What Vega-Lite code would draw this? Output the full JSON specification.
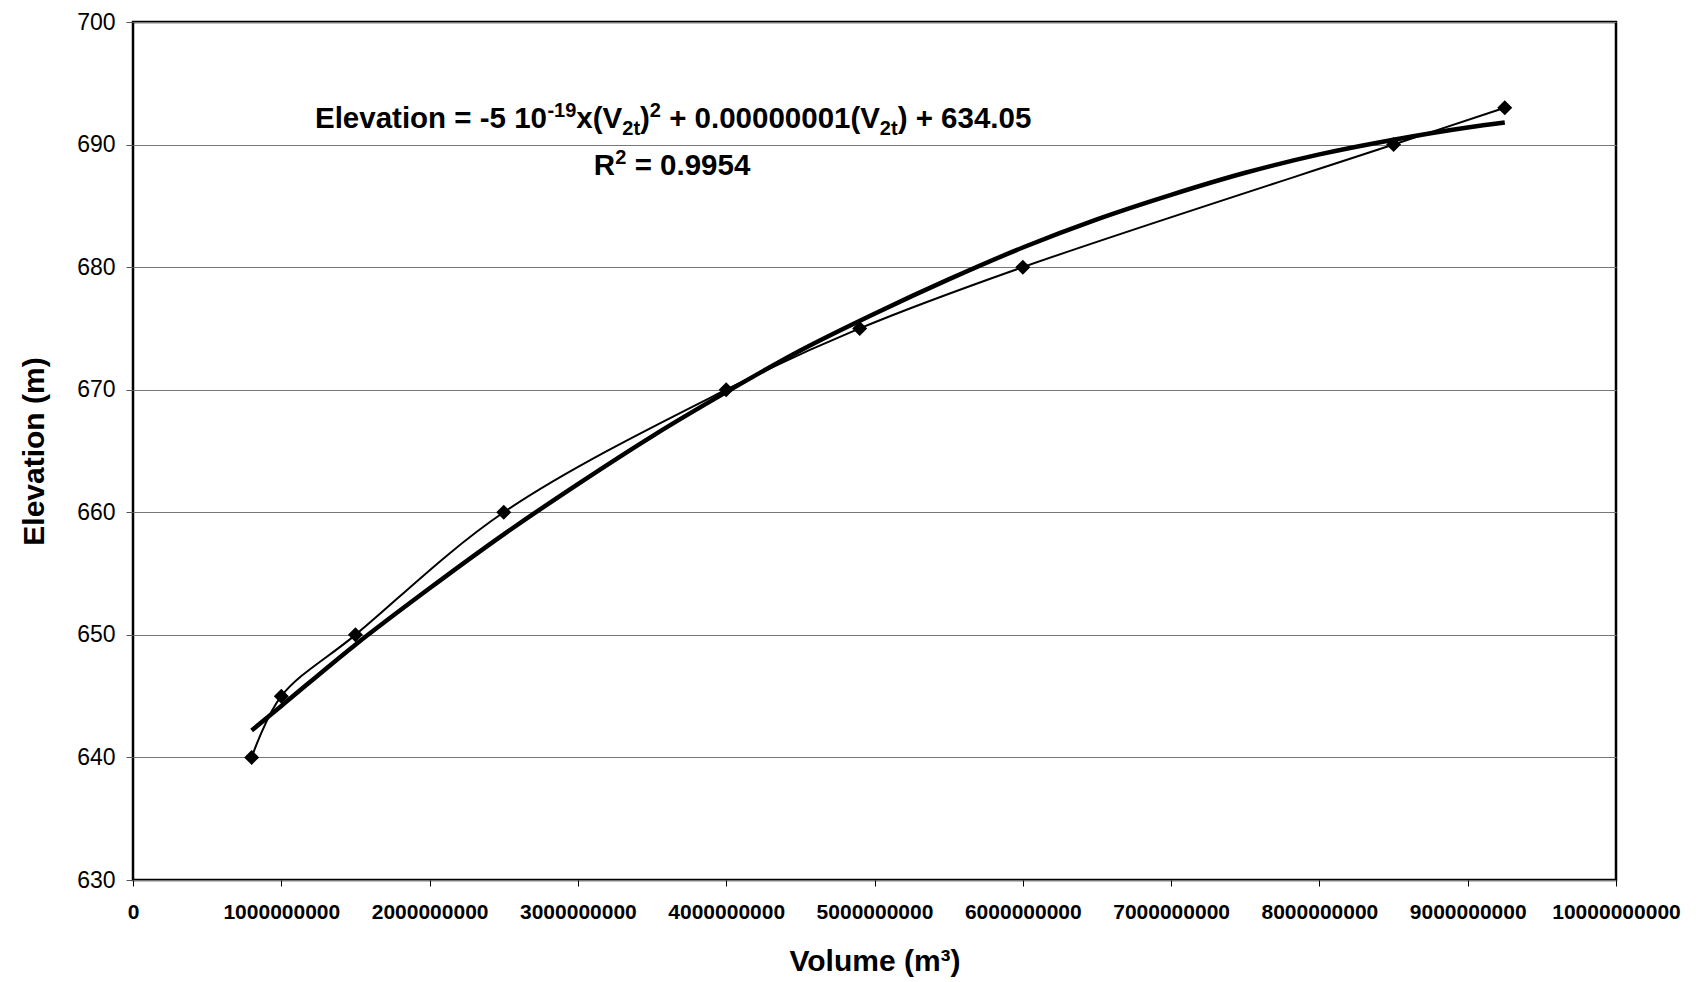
{
  "$schema": "https://vega.github.io/schema/vega-lite/v6.json",
  "width": 1483,
  "height": 858,
  "autosize": {"type": "none"},
  "padding": {"left": 133, "top": 22, "right": 83, "bottom": 102},
  "background": "white",
  "config": {
    "view": {"stroke": "black", "strokeWidth": 2.5},
    "font": "Liberation Sans"
  },
  "datasets": {
    "obs": [
      {"volume": 800000000, "elevation": 640},
      {"volume": 1000000000, "elevation": 645},
      {"volume": 1500000000, "elevation": 650},
      {"volume": 2500000000, "elevation": 660},
      {"volume": 4000000000, "elevation": 670},
      {"volume": 4900000000, "elevation": 675},
      {"volume": 6000000000, "elevation": 680},
      {"volume": 8500000000, "elevation": 690},
      {"volume": 9250000000, "elevation": 693}
    ],
    "trend": [
      {"volume": 800000000, "elevation": 642.2},
      {"volume": 1000000000, "elevation": 644.2},
      {"volume": 1500000000, "elevation": 649.2},
      {"volume": 2000000000, "elevation": 653.8},
      {"volume": 2500000000, "elevation": 658.2},
      {"volume": 3000000000, "elevation": 662.3},
      {"volume": 3500000000, "elevation": 666.2},
      {"volume": 4000000000, "elevation": 669.8},
      {"volume": 4500000000, "elevation": 673.2},
      {"volume": 5000000000, "elevation": 676.2},
      {"volume": 5500000000, "elevation": 679.0},
      {"volume": 6000000000, "elevation": 681.6},
      {"volume": 6500000000, "elevation": 683.9},
      {"volume": 7000000000, "elevation": 685.9},
      {"volume": 7500000000, "elevation": 687.7},
      {"volume": 8000000000, "elevation": 689.2},
      {"volume": 8500000000, "elevation": 690.4},
      {"volume": 9000000000, "elevation": 691.4},
      {"volume": 9250000000, "elevation": 691.8}
    ],
    "equation": [
      {"volume": 1227000000, "elevation": 691.36}
    ],
    "rsq": [
      {"volume": 3107000000, "elevation": 687.5}
    ]
  },
  "layer": [
    {
      "data": {"name": "obs"},
      "mark": {"type": "line", "color": "black", "strokeWidth": 2, "interpolate": "catmull-rom"},
      "encoding": {
        "x": {
          "field": "volume", "type": "quantitative",
          "scale": {"domain": [0, 10000000000], "nice": false},
          "axis": {
            "title": "Volume (m³)",
            "values": [0, 1000000000, 2000000000, 3000000000, 4000000000, 5000000000, 6000000000, 7000000000, 8000000000, 9000000000, 10000000000],
            "format": "d",
            "grid": false,
            "domain": false,
            "tickColor": "black",
            "tickSize": 6,
            "labelFont": "Liberation Sans",
            "labelFontWeight": "bold",
            "labelFontSize": 21,
            "labelColor": "black",
            "labelPadding": 15,
            "labelFlush": false,
            "titleFont": "Liberation Sans",
            "titleFontWeight": "bold",
            "titleFontSize": 30,
            "titleColor": "black",
            "titlePadding": 24
          }
        },
        "y": {
          "field": "elevation", "type": "quantitative",
          "scale": {"domain": [630, 700], "nice": false, "zero": false},
          "axis": {
            "title": "Elevation (m)",
            "values": [630, 640, 650, 660, 670, 680, 690, 700],
            "grid": true,
            "gridColor": "#777777",
            "gridWidth": 1.2,
            "domain": false,
            "tickColor": "#555555",
            "tickSize": 7,
            "labelFont": "Liberation Sans",
            "labelFontSize": 23,
            "labelColor": "black",
            "labelPadding": 11,
            "titleFont": "Liberation Sans",
            "titleFontWeight": "bold",
            "titleFontSize": 30,
            "titleColor": "black",
            "titlePadding": 27
          }
        }
      }
    },
    {
      "data": {"name": "trend"},
      "mark": {"type": "line", "color": "black", "strokeWidth": 4.5, "interpolate": "monotone"},
      "encoding": {
        "x": {"field": "volume", "type": "quantitative"},
        "y": {"field": "elevation", "type": "quantitative"}
      }
    },
    {
      "data": {"name": "obs"},
      "mark": {"type": "point", "shape": "diamond", "filled": true, "color": "black", "size": 225, "opacity": 1},
      "encoding": {
        "x": {"field": "volume", "type": "quantitative"},
        "y": {"field": "elevation", "type": "quantitative"}
      }
    },
    {
      "data": {"name": "equation"},
      "encoding": {
        "x": {"field": "volume", "type": "quantitative"},
        "y": {"field": "elevation", "type": "quantitative"}
      },
      "layer": [
        {"mark": {"type": "text", "text": "Elevation = -5 10", "font": "Liberation Sans", "fontWeight": "bold", "fontSize": 29.5, "color": "black", "align": "left", "baseline": "alphabetic", "dx": 0}},
        {"mark": {"type": "text", "text": "-19", "font": "Liberation Sans", "fontWeight": "bold", "fontSize": 20, "color": "black", "align": "left", "baseline": "alphabetic", "dx": 232.5, "dy": -11}},
        {"mark": {"type": "text", "text": "x(V", "font": "Liberation Sans", "fontWeight": "bold", "fontSize": 29.5, "color": "black", "align": "left", "baseline": "alphabetic", "dx": 261.4}},
        {"mark": {"type": "text", "text": "2t", "font": "Liberation Sans", "fontWeight": "bold", "fontSize": 20, "color": "black", "align": "left", "baseline": "alphabetic", "dx": 307.3, "dy": 7}},
        {"mark": {"type": "text", "text": ")", "font": "Liberation Sans", "fontWeight": "bold", "fontSize": 29.5, "color": "black", "align": "left", "baseline": "alphabetic", "dx": 325.1}},
        {"mark": {"type": "text", "text": "2", "font": "Liberation Sans", "fontWeight": "bold", "fontSize": 20, "color": "black", "align": "left", "baseline": "alphabetic", "dx": 334.9, "dy": -11}},
        {"mark": {"type": "text", "text": "+ 0.00000001(V", "font": "Liberation Sans", "fontWeight": "bold", "fontSize": 29.5, "color": "black", "align": "left", "baseline": "alphabetic", "dx": 354.2}},
        {"mark": {"type": "text", "text": "2t", "font": "Liberation Sans", "fontWeight": "bold", "fontSize": 20, "color": "black", "align": "left", "baseline": "alphabetic", "dx": 564.9, "dy": 7}},
        {"mark": {"type": "text", "text": ") + 634.05", "font": "Liberation Sans", "fontWeight": "bold", "fontSize": 29.5, "color": "black", "align": "left", "baseline": "alphabetic", "dx": 582.7}}
      ]
    },
    {
      "data": {"name": "rsq"},
      "encoding": {
        "x": {"field": "volume", "type": "quantitative"},
        "y": {"field": "elevation", "type": "quantitative"}
      },
      "layer": [
        {"mark": {"type": "text", "text": "R", "font": "Liberation Sans", "fontWeight": "bold", "fontSize": 29.5, "color": "black", "align": "left", "baseline": "alphabetic", "dx": 0}},
        {"mark": {"type": "text", "text": "2", "font": "Liberation Sans", "fontWeight": "bold", "fontSize": 20, "color": "black", "align": "left", "baseline": "alphabetic", "dx": 21.6, "dy": -11}},
        {"mark": {"type": "text", "text": "= 0.9954", "font": "Liberation Sans", "fontWeight": "bold", "fontSize": 29.5, "color": "black", "align": "left", "baseline": "alphabetic", "dx": 40.9}}
      ]
    }
  ]
}
